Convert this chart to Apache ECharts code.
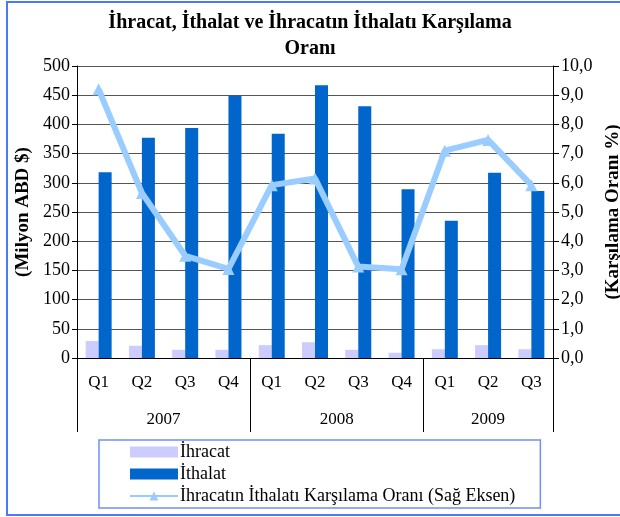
<!DOCTYPE html>
<html>
<head>
<meta charset="utf-8">
<script src="https://cdn.jsdelivr.net/npm/echarts@6/dist/echarts.min.js"></script>
<style>
html, body { margin: 0; padding: 0; background: #fff; }
#chart { width: 620px; height: 517px; }
</style>
</head>
<body>
<div id="chart"></div>
<script>
// veriler
var quarters = ['Q1', 'Q2', 'Q3', 'Q4', 'Q1', 'Q2', 'Q3', 'Q4', 'Q1', 'Q2', 'Q3'];
var yearSlots = ['', '', '', '', '2007', '', '', '', '', '', '', '', '2008', '', '', '', '', '', '', '2009', '', '', ''];
var yearTicks = [0, 8, 16, 22];
var ihracat = [29, 21, 14, 14, 22, 27, 14, 9, 15, 22, 15];
var ithalat = [318, 377, 394, 449, 384, 467, 431, 289, 235, 317, 286];
var oran = [9.2, 5.65, 3.5, 3.05, 5.92, 6.15, 3.13, 3.04, 7.1, 7.47, 5.92];

var font = 'Liberation Serif';
var chart = echarts.init(document.getElementById('chart'));

chart.setOption({
    backgroundColor: '#fff',
    textStyle: { fontFamily: font, color: '#000' },
    graphic: [{
        type: 'rect',
        shape: { x: 7, y: 2, width: 640, height: 513 },
        style: { fill: null, stroke: '#4f78f5', lineWidth: 2 }
    }],
    title: {
        text: 'İhracat, İthalat ve İhracatın İthalatı Karşılama\nOranı',
        left: 'center',
        top: 5,
        textStyle: { fontFamily: font, fontSize: 20, fontWeight: 'bold', color: '#000', lineHeight: 26 }
    },
    legend: {
        orient: 'vertical',
        left: 99,
        top: 440,
        padding: [3, 25, 3, 30],
        itemGap: 4,
        itemWidth: 48,
        itemHeight: 11,
        borderColor: '#6f8ff5',
        borderWidth: 1.5,
        borderRadius: 0,
        textStyle: { fontFamily: font, fontSize: 18, color: '#000', padding: [0, 0, 0, -3] },
        data: [
            { name: 'İhracat', icon: 'rect' },
            { name: 'İthalat', icon: 'rect' },
            'İhracatın İthalatı Karşılama Oranı (Sağ Eksen)'
        ]
    },
    grid: { left: 77, right: 67, top: 66, bottom: 159, outerBoundsMode: 'none', containLabel: false },
    xAxis: [{
        type: 'category',
        data: quarters,
        axisLine: { lineStyle: { color: '#000', width: 1 } },
        axisTick: { length: 37, interval: 0, lineStyle: { color: '#000' } },
        axisLabel: { margin: 16, fontSize: 17, color: '#000', fontFamily: font, interval: 0 }
    }, {
        type: 'category',
        position: 'bottom',
        boundaryGap: false,
        data: yearSlots,
        axisLine: { show: false },
        axisTick: {
            show: true,
            length: 74,
            lineStyle: { color: '#000' },
            interval: function (i) { return yearTicks.indexOf(i) >= 0; }
        },
        axisLabel: {
            margin: 53,
            fontSize: 17,
            color: '#000',
            fontFamily: font,
            interval: function (i, v) { return v !== ''; }
        }
    }],
    yAxis: [{
        type: 'value',
        min: 0,
        max: 500,
        interval: 50,
        name: '(Milyon ABD $)',
        nameLocation: 'middle',
        nameGap: 44,
        nameTextStyle: { fontFamily: font, fontSize: 19, fontWeight: 'bold', color: '#000' },
        axisLine: { show: true, lineStyle: { color: '#000' } },
        axisTick: { show: true, length: 5, lineStyle: { color: '#000' } },
        axisLabel: { fontSize: 18, color: '#000', fontFamily: font, margin: 7 },
        splitLine: { lineStyle: { color: '#555', width: 1.2 } }
    }, {
        type: 'value',
        min: 0,
        max: 10,
        interval: 1,
        name: '(Karşılama Oranı %)',
        nameLocation: 'middle',
        nameGap: 44,
        nameRotate: 90,
        nameTextStyle: { fontFamily: font, fontSize: 19, fontWeight: 'bold', color: '#000' },
        axisLine: { show: true, lineStyle: { color: '#000' } },
        axisTick: { show: true, length: 6, lineStyle: { color: '#000' } },
        axisLabel: {
            fontSize: 18, color: '#000', fontFamily: font, margin: 8,
            formatter: function (v) { return v.toFixed(1).replace('.', ','); }
        },
        splitLine: { show: false }
    }],
    series: [{
        name: 'İhracat',
        type: 'bar',
        barWidth: 13,
        barGap: 0,
        itemStyle: { color: '#ccccff' },
        data: ihracat
    }, {
        name: 'İthalat',
        type: 'bar',
        barWidth: 13,
        barGap: 0,
        itemStyle: { color: '#0066cc' },
        data: ithalat
    }, {
        name: 'İhracatın İthalatı Karşılama Oranı (Sağ Eksen)',
        type: 'line',
        yAxisIndex: 1,
        symbol: 'triangle',
        symbolSize: 12,
        lineStyle: { color: '#99ccff', width: 6 },
        itemStyle: { color: '#99ccff' },
        data: oran
    }]
});
</script>
</body>
</html>
